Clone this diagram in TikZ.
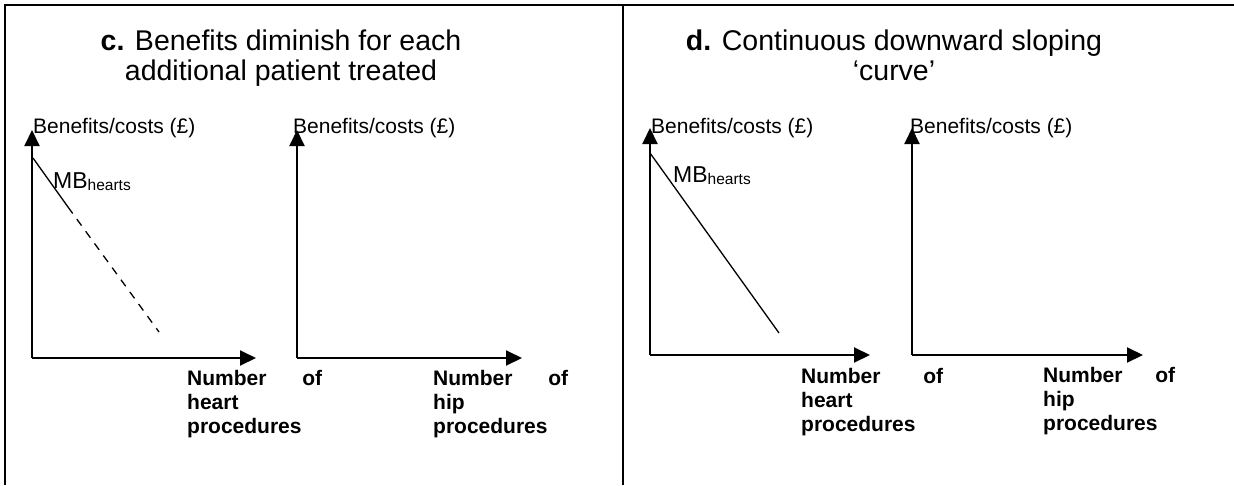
\documentclass[tikz,border=0pt]{standalone}
\usepackage{fontspec}
\setmainfont{Liberation Sans}
\usetikzlibrary{arrows.meta, positioning}

\begin{document}
\begin{tikzpicture}[x=1pt, y=-1pt,
    axis/.style={line width=2pt, -{Triangle[length=16pt, width=15pt]}},
    frame/.style={line width=2pt},
    mbline/.style={line width=1.3pt},
    axlabel/.style={anchor=base west, inner sep=0pt, font=\fontsize{21}{24}\selectfont},
    qlabel/.style={anchor=base west, inner sep=0pt, align=left, font=\fontsize{21}{24}\selectfont\bfseries},
    title/.style={anchor=base, inner sep=0pt, align=center, font=\fontsize{28.5}{30}\selectfont},
    mblabel/.style={anchor=base west, inner sep=0pt, font=\fontsize{23}{28}\selectfont}]
    \useasboundingbox (0,0) rectangle (1234,485);

    % frame
    \coordinate (tl) at (5,5);
    \coordinate (tr) at (1234,5);
    \coordinate (bl) at (5,485);
    \coordinate (tm) at (623,5);
    \coordinate (bm) at (623,485);
    \draw[frame] (bl) -- (tl) -- (tr);
    \draw[frame] (tm) -- (bm);

    % titles (base = last line)
    \node[title] (ctitle) at (281,80) {\textbf{c.} Benefits diminish for each\\additional patient treated};
    \node[title] (dtitle) at (894,80) {\textbf{d.} Continuous downward sloping\\‘curve’};

    % axes
    \coordinate (c1o) at (32,358);
    \coordinate (c1y) at (32,130);
    \coordinate (c1x) at (256,358);
    \coordinate (c2o) at (297,358);
    \coordinate (c2y) at (297,130);
    \coordinate (c2x) at (522,358);
    \coordinate (d1o) at (650,355);
    \coordinate (d1y) at (650,128);
    \coordinate (d1x) at (870,355);
    \coordinate (d2o) at (912,355);
    \coordinate (d2y) at (912,128);
    \coordinate (d2x) at (1143,355);

    \draw[axis] (c1o) -- (c1y);
    \draw[axis] (c1o) -- (c1x);
    \draw[axis] (c2o) -- (c2y);
    \draw[axis] (c2o) -- (c2x);
    \draw[axis] (d1o) -- (d1y);
    \draw[axis] (d1o) -- (d1x);
    \draw[axis] (d2o) -- (d2y);
    \draw[axis] (d2o) -- (d2x);

    % axis labels
    \node[axlabel] (c1lab) at (33,133) {Benefits/costs (£)};
    \node[axlabel] (c2lab) at (293,133) {Benefits/costs (£)};
    \node[axlabel] (d1lab) at (651,133) {Benefits/costs (£)};
    \node[axlabel] (d2lab) at (910,133) {Benefits/costs (£)};

    \node[qlabel, text width=135pt] (c1q) at (187,385) {Number\hfill of\\heart\\procedures};
    \node[qlabel, text width=135pt] (c2q) at (433,385) {Number\hfill of\\hip\\procedures};
    \node[qlabel, text width=142pt] (d1q) at (801,383) {Number\hfill of\\heart\\procedures};
    \node[qlabel, text width=132pt] (d2q) at (1043,382) {Number\hfill of\\hip\\procedures};

    % MB curves
    \coordinate (c1s) at (33,158);
    \coordinate (c1m) at (68,207);
    \coordinate (c1e) at (159,332);
    \draw[mbline] (c1s) -- (c1m);
    \draw[mbline, dash pattern=on 8pt off 7pt] (c1m) -- (c1e);
    \node[mblabel] (c1mb) at (53,188) {MB{\fontsize{15.5}{18}\selectfont\raisebox{-2pt}{hearts}}};

    \coordinate (d1s) at (650,153);
    \coordinate (d1e) at (779,333);
    \draw[mbline] (d1s) -- (d1e);
    \node[mblabel] (d1mb) at (673,182) {MB{\fontsize{15.5}{18}\selectfont\raisebox{-2pt}{hearts}}};
\end{tikzpicture}
\end{document}
